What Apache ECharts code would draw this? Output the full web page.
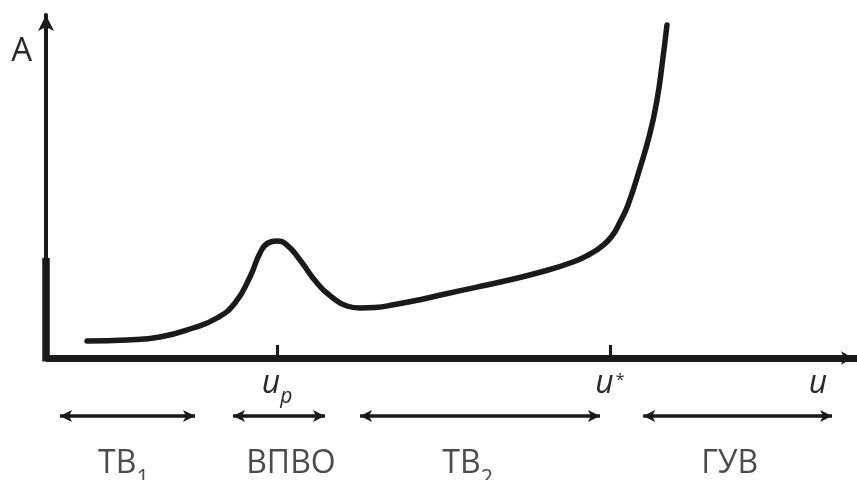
<!DOCTYPE html>
<html>
<head>
<meta charset="utf-8">
<script src="https://cdn.jsdelivr.net/npm/echarts@6/dist/echarts.min.js"></script>
<style>html,body{margin:0;padding:0;background:#fff}#c{width:857px;height:480px}</style>
</head>
<body>
<div id="c"></div>
<script>
// Curve (arbitrary units: x 0..100, A 0..100)
const curveX = [5.06, 9.99, 14.06, 18.13, 21.09, 23.30, 25.15, 26.39, 27.37, 28.48, 29.72, 31.32, 33.42, 35.39, 37.11, 38.72, 40.57, 43.03, 46.12, 49.5, 53.0, 56.84, 60.91, 64.98, 67.08, 68.56, 69.79, 70.78, 71.76, 73.24, 74.48, 75.34, 75.96, 76.57];
const curveA = [4.96, 5.25, 6.12, 8.75, 11.66, 16.03, 23.62, 30.61, 33.53, 34.11, 32.94, 28.57, 21.87, 17.49, 15.16, 14.58, 14.72, 15.60, 17.00, 18.80, 20.60, 22.60, 25.00, 27.99, 30.32, 32.65, 35.57, 39.65, 44.61, 55.39, 65.60, 75.22, 85.42, 97.08];

// x-axis ticks and labels
const tickValues = [28.48, 69.54];
const xLabelValues = [28.48, 69.54, 95.2];
const xLabelTexts = ['{u|u}{sub|p}', '{u|u}{sup|*}', '{u|u}'];

// y-axis name label
const yLabelValues = [89.2];
const yLabelTexts = ['A'];

// thick lower part of the y axis (A range)
const yAxisThick = [-1, 29.2];

// Regions (double arrows) below the axis
const bandStart = [1.73, 23.06, 38.72, 73.64];
const bandEnd = [18.37, 34.40, 68.31, 96.92];
const bandCenter = [9.56, 30.2, 52.0, 84.3];
const bandName = ['ТВ', 'ВПВО', 'ТВ', 'ГУВ'];
const bandSub = ['1', '', '2', ''];
const arrowLevel = 64;
const bandLabelLevel = 20;

const ink = '#1a1a1a';
const font = '"Open Sans", "Noto Sans", sans-serif';

const chart = echarts.init(document.getElementById('c'), null, {renderer: 'canvas'});

const curveData = curveX.map((x, i) => [x, curveA[i]]);

const option = {
  animation: false,
  backgroundColor: '#fff',
  grid: [
    {left: 46, right: 0, top: 15, bottom: 122, containLabel: false},
    {left: 46, right: 0, top: 400, bottom: 0, containLabel: false}
  ],
  xAxis: [
    {
      gridIndex: 0, type: 'value', min: 0, max: 100,
      splitLine: {show: false},
      axisLine: {show: true, onZero: false, symbol: ['none', 'arrow'], symbolSize: [10, 12], symbolOffset: [0, -4],
        lineStyle: {color: ink, width: 7, cap: 'butt'}},
      axisTick: {show: true, inside: true, length: 13, customValues: tickValues, lineStyle: {color: ink, width: 3}},
      axisLabel: {
        show: true, customValues: xLabelValues, margin: 6,
        formatter: function (v) {
          let best = 0;
          for (let i = 1; i < xLabelValues.length; i++) {
            if (Math.abs(xLabelValues[i] - v) < Math.abs(xLabelValues[best] - v)) best = i;
          }
          return xLabelTexts[best];
        },
        rich: {
          u: {fontFamily: font, fontStyle: 'italic', fontSize: 32, color: '#2a2a2a', lineHeight: 36, verticalAlign: 'bottom'},
          sub: {fontFamily: font, fontStyle: 'italic', fontSize: 21, color: '#2a2a2a', lineHeight: 36, verticalAlign: 'bottom', padding: [0, 0, -8, 0]},
          sup: {fontFamily: font, fontSize: 16, color: '#2a2a2a', lineHeight: 36, verticalAlign: 'bottom', padding: [0, 0, 12, 2]}
        }
      }
    },
    {gridIndex: 1, type: 'value', min: 0, max: 100, show: false}
  ],
  yAxis: [
    {
      gridIndex: 0, type: 'value', min: 0, max: 100,
      splitLine: {show: false},
      axisLine: {show: true, onZero: false, symbol: ['none', 'arrow'], symbolSize: [12, 16], symbolOffset: [0, 0],
        lineStyle: {color: ink, width: 4}},
      axisTick: {show: false},
      axisLabel: {
        show: true, customValues: yLabelValues, margin: 14,
        formatter: function () { return yLabelTexts[0]; },
        fontFamily: font, fontSize: 33, color: '#2a2a2a'
      }
    },
    {gridIndex: 1, type: 'value', min: 0, max: 80, show: false}
  ],
  series: [
    {
      type: 'line', xAxisIndex: 0, yAxisIndex: 0,
      data: curveData, smooth: 0.5, showSymbol: false, symbol: 'none', clip: false,
      lineStyle: {color: ink, width: 5.5, cap: 'round', join: 'round'},
      silent: true,
      z: 3
    },
    {
      type: 'line', xAxisIndex: 0, yAxisIndex: 0,
      data: yAxisThick.map(v => [0, v]), showSymbol: false, symbol: 'none', clip: false,
      lineStyle: {color: ink, width: 7.5, cap: 'butt'},
      silent: true, z: 4
    },
    {
      type: 'scatter', xAxisIndex: 1, yAxisIndex: 1,
      data: bandCenter.map((c, i) => ({value: [c, bandLabelLevel], name: bandName[i]})),
      symbolSize: 0, silent: true,
      label: {
        show: true, position: 'inside',
        formatter: function (p) {
          const s = bandSub[p.dataIndex];
          return '{n|' + bandName[p.dataIndex] + '}' + (s ? '{s|' + s + '}' : '');
        },
        rich: {
          n: {fontFamily: font, fontSize: 32, color: '#1e1e1e', lineHeight: 40, verticalAlign: 'bottom'},
          s: {fontFamily: font, fontSize: 22, color: '#1e1e1e', lineHeight: 40, verticalAlign: 'bottom', padding: [0, 0, -10, 0]}
        }
      },
      markLine: {
        silent: true, animation: false,
        symbol: ['arrow', 'arrow'], symbolSize: [9, 12],
        label: {show: false},
        lineStyle: {color: ink, width: 3.5, type: 'solid'},
        data: bandStart.map((s, i) => [{coord: [s, arrowLevel]}, {coord: [bandEnd[i], arrowLevel]}])
      }
    }
  ]
};
chart.setOption(option);
</script>
</body>
</html>
